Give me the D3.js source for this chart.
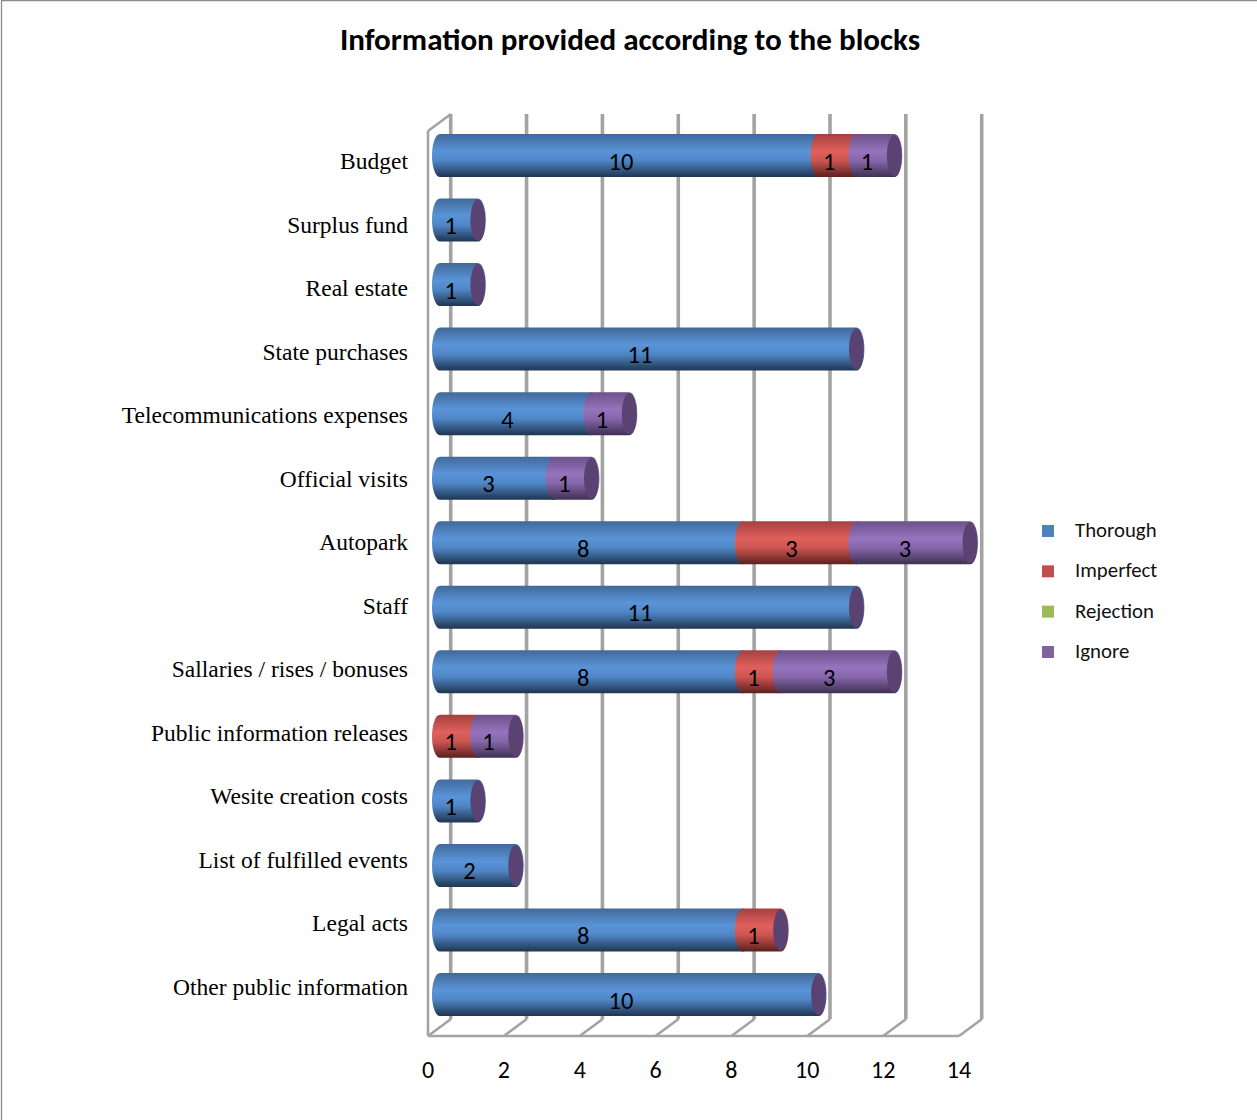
<!DOCTYPE html>
<html><head><meta charset="utf-8">
<style>html,body{margin:0;padding:0;background:#fff}svg{display:block}</style>
<script src="https://cdn.jsdelivr.net/npm/d3@7/dist/d3.min.js"></script>
</head><body><svg id="c" width="1257" height="1120"></svg>
<script>
const titleText = "Information provided according to the blocks";
const categories = ["Budget","Surplus fund","Real estate","State purchases","Telecommunications expenses","Official visits","Autopark","Staff","Sallaries / rises / bonuses","Public information releases","Wesite creation costs","List of fulfilled events","Legal acts","Other public information"];
const seriesNames = ["Thorough","Imperfect","Rejection","Ignore"];
const thorough  = [10,1,1,11,4,3,8,11,8,0,1,2,8,10];
const imperfect = [1,0,0,0,0,0,3,0,1,1,0,0,1,0];
const rejection = [0,0,0,0,0,0,0,0,0,0,0,0,0,0];
const ignore    = [1,0,0,0,1,1,3,0,3,1,0,0,0,0];
const tickValues = [0,2,4,6,8,10,12,14];
const legendColors = ["#4f81bd","#c0504d","#9bbb59","#8064a2"];
const gradStops = [
  ["#41699a","#5a94d8","#4f86c6","#1f3550"],
  ["#a5403e","#e0605d","#cc5552","#5c201e"],
  ["#7f9c44","#b5d56c","#a5c45e","#4c6028"],
  ["#6b5189","#9574bd","#8666aa","#3f3052"]];
const capColor = "#5a4372";

const rows = categories.map((c,i)=>({cat:c,Thorough:thorough[i],Imperfect:imperfect[i],Rejection:rejection[i],Ignore:ignore[i]}));
const stacked = d3.stack().keys(seriesNames)(rows);

const svg = d3.select("#c");
const defs = svg.append("defs");
seriesNames.forEach((s,i)=>{
  const g = defs.append("linearGradient").attr("id","g"+i).attr("x1",0).attr("x2",0).attr("y1",0).attr("y2",1);
  [[0,0],[.4,1],[.62,2],[1,3]].forEach(([o,k])=>g.append("stop").attr("offset",o).attr("stop-color",gradStops[i][k]));
});
defs.append("filter").attr("id","soft").attr("x","-10%").attr("y","-10%").attr("width","120%").attr("height","120%")
  .append("feGaussianBlur").attr("stdDeviation",0.45);

// frame
svg.append("path").attr("d","M1.5 1120V0.5H1257").attr("fill","none").attr("stroke","#8c8c8c").attr("stroke-width",1.3);

// title
svg.append("text").attr("x",630).attr("y",50).attr("text-anchor","middle")
  .attr("font-family","Carlito, Lato, sans-serif").attr("font-weight",700).attr("font-size",31.1).attr("fill","#000").text(titleText);

// scales
const frontX = d3.scaleLinear().domain([0,14]).range([428,959]);
const barX   = d3.scaleLinear().domain([0,14]).range([440,970]);
const labelX = d3.scaleLinear().domain([0,14]).range([431.7,961.7]);
const rowY   = d3.scalePoint().domain(categories).range([155.5,994.5]);
const catY   = d3.scalePoint().domain(categories).range([169,995]);
const depthX = 23, depthY = 17, floorY = 1036, topY = 114;
const barH = 43, capR = 8;

const wall = svg.append("g").attr("fill","none").attr("stroke","#a3a3a3").attr("stroke-width",2.6).attr("filter","url(#soft)");
tickValues.forEach(t=>{
  const x = frontX(t);
  wall.append("line").attr("x1",x+depthX-.3).attr("x2",x+depthX-.3).attr("y1",topY).attr("y2",floorY-depthY).attr("stroke-width",3.6);
  wall.append("line").attr("x1",x).attr("x2",x+depthX).attr("y1",floorY).attr("y2",floorY-depthY);
});
wall.append("line").attr("x1",frontX(0)).attr("x2",frontX(14)).attr("y1",floorY).attr("y2",floorY);
wall.append("line").attr("x1",frontX(0)).attr("x2",frontX(0)).attr("y1",topY+depthY).attr("y2",floorY);
wall.append("line").attr("x1",frontX(0)).attr("x2",frontX(0)+depthX).attr("y1",topY+depthY).attr("y2",topY);

// bars
const segPath = (x0,x1,cy)=>{
  const t=cy-barH/2,b=cy+barH/2;
  return `M${x0} ${t}L${x1} ${t}A${capR} ${barH/2} 0 0 1 ${x1} ${b}L${x0} ${b}A${capR} ${barH/2} 0 0 1 ${x0} ${t}Z`;
};
const barsG = svg.append("g").attr("filter","url(#soft)");
rows.forEach((r,idx)=>{
  const cy = rowY(r.cat);
  let last = 0;
  stacked.forEach((layer,si)=>{
    const d = layer[idx];
    if(d[1]>d[0]){
      barsG.append("path").attr("d",segPath(barX(d[0]),barX(d[1]),cy)).attr("fill",`url(#g${si})`);
      last = d[1];
    }
  });
  barsG.append("ellipse").attr("cx",barX(last)).attr("cy",cy).attr("rx",capR-.5).attr("ry",barH/2-1).attr("fill",capColor);
});

// data labels
const lab = svg.append("g").attr("font-family","Carlito, Lato, sans-serif").attr("font-size",24.5).attr("fill","#000").attr("text-anchor","middle");
rows.forEach((r,idx)=>{
  stacked.forEach(layer=>{
    const d = layer[idx];
    if(d[1]>d[0]) lab.append("text").attr("x",labelX((d[0]+d[1])/2)).attr("y",rowY(r.cat)+14).text(d[1]-d[0]);
  });
});

// category labels
svg.append("g").selectAll("text").data(categories).join("text")
  .attr("x",408).attr("y",d=>catY(d)).attr("text-anchor","end")
  .attr("font-family","Liberation Serif, serif").attr("font-size",23.5).attr("fill","#000").text(d=>d);

// ticks
svg.append("g").selectAll("text").data(tickValues).join("text")
  .attr("x",d=>frontX(d)).attr("y",1078).attr("text-anchor","middle")
  .attr("font-family","Carlito, Lato, sans-serif").attr("font-size",24).attr("fill","#000").text(d=>d);

// legend
const legY = d3.scalePoint().domain(seriesNames).range([531,652]);
const leg = svg.append("g");
seriesNames.forEach((s,i)=>{
  leg.append("rect").attr("x",1042).attr("y",legY(s)-6).attr("width",12).attr("height",12).attr("fill",legendColors[i]);
  leg.append("text").attr("x",1075).attr("y",legY(s)+6).attr("font-family","Carlito, Lato, sans-serif").attr("font-size",20.8).attr("fill","#111").text(s);
});
</script></body></html>
